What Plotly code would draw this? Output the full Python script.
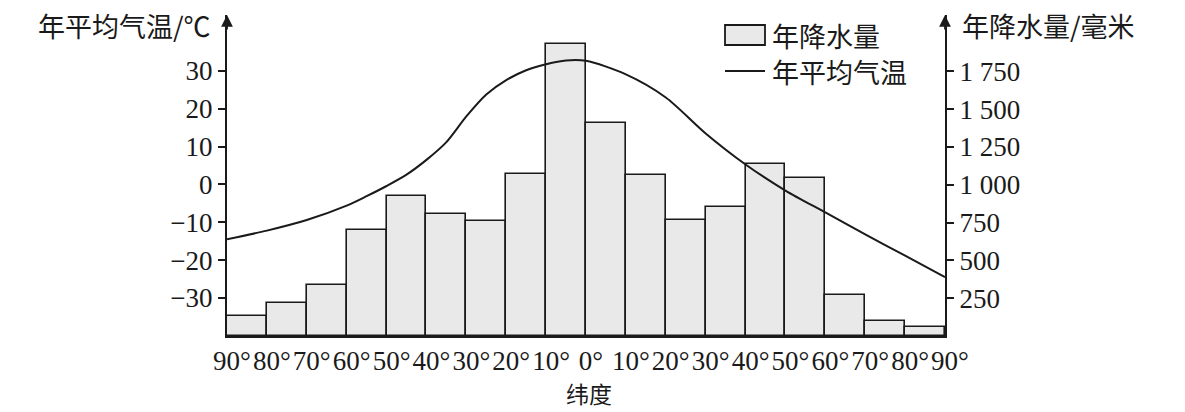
import plotly.graph_objects as go

# ---------------- data ----------------
# x position: negative = northern latitudes (left), positive = southern (right)
band_mid = [-85, -75, -65, -55, -45, -35, -25, -15, -5, 5, 15, 25, 35, 45, 55, 65, 75, 85]
precip_mm = [132, 220, 339, 701, 926, 807, 761, 1071, 1931, 1411, 1065, 767, 855, 1138, 1047, 271, 99, 62]

temp_lat = [-90, -80, -70, -60, -55, -50, -45, -40, -35, -30, -25, -20, -15, -10, -5, 0,
            10, 20, 30, 40, 50, 60, 70, 80, 90]
temp_c = [-14.5, -12.2, -9.4, -5.6, -3.1, -0.4, 2.6, 6.5, 11.2, 18.0, 23.8, 27.6, 30.2, 31.8, 32.8, 32.7,
          29.1, 23.0, 13.5, 5.3, -1.6, -7.4, -13.2, -18.8, -24.5]

x_tick_vals = [-90, -80, -70, -60, -50, -40, -30, -20, -10, 0, 10, 20, 30, 40, 50, 60, 70, 80, 90]
x_tick_text = ["90°", "80°", "70°", "60°", "50°", "40°", "30°", "20°", "10°", "0°",
               "10°", "20°", "30°", "40°", "50°", "60°", "70°", "80°", "90°"]
temp_ticks = [-30, -20, -10, 0, 10, 20, 30]
precip_ticks = [250, 500, 750, 1000, 1250, 1500, 1750]
precip_tick_text = ["250", "500", "750", "1 000", "1 250", "1 500", "1 750"]

# ---------------- layout geometry ----------------
W, H = 1185, 412
ML, MR, MT, MB = 227, 240, 15, 76
PW, PH = W - ML - MR, H - MT - MB

def px_x(p):
    return (p - ML) / PW

def px_y(p):
    return (H - MB - p) / PH

SERIF = "Liberation Serif, Times New Roman, serif"
CJK = "Noto Sans CJK SC, sans-serif"
BAR_FILL = "#e9e9e9"
INK = "#1a1a1a"

fig = go.Figure()
fig.add_trace(go.Bar(
    x=band_mid, y=precip_mm, width=10, yaxis="y",
    marker=dict(color=BAR_FILL, line=dict(color=INK, width=1.6)),
    name="年降水量", showlegend=False,
))
fig.add_trace(go.Scatter(
    x=temp_lat, y=temp_c, yaxis="y2", mode="lines",
    line=dict(color=INK, width=2, shape="spline", smoothing=0.8),
    name="年平均气温", showlegend=False,
))

temp_range = [-40.05, -40.05 + PH / 3.783]
precip_range = [0, PH / 0.1513]

fig.update_layout(
    width=W, height=H,
    margin=dict(l=ML, r=MR, t=MT, b=MB),
    paper_bgcolor="white", plot_bgcolor="white",
    bargap=0,
    xaxis=dict(
        range=[-90, 90], tickvals=x_tick_vals, ticktext=x_tick_text, tickangle=0,
        showgrid=False, zeroline=False, showline=True, linecolor=INK, linewidth=2,
        ticks="", ticklabelshift=5, tickfont=dict(family=SERIF, size=27, color=INK),
    ),
    yaxis=dict(
        range=precip_range, side="right", tickvals=precip_ticks, ticktext=precip_tick_text,
        showgrid=False, zeroline=False, showline=True, linecolor=INK, linewidth=2,
        ticks="outside", ticklen=7, tickwidth=2, tickcolor=INK,
        tickfont=dict(family=SERIF, size=27, color=INK),
    ),
    yaxis2=dict(
        range=temp_range, side="left", overlaying="y", tickvals=temp_ticks,
        showgrid=False, zeroline=False, showline=True, linecolor=INK, linewidth=2,
        ticks="outside", ticklen=7, tickwidth=2, tickcolor=INK,
        tickfont=dict(family=SERIF, size=27, color=INK),
    ),
)

annotations = []
# axis arrows
for xp in (0, 1):
    annotations.append(dict(
        x=xp, y=1, xref="paper", yref="paper", ax=0, ay=16, text="",
        showarrow=True, arrowhead=2, arrowsize=1.3, arrowwidth=1.8, arrowcolor=INK,
    ))
# axis titles
annotations.append(dict(x=px_x(213), y=px_y(25), xref="paper", yref="paper", text="年平均气温/℃",
                        showarrow=False, xanchor="right", yanchor="middle",
                        font=dict(family=CJK, size=27, color=INK)))
annotations.append(dict(x=px_x(960), y=px_y(25), xref="paper", yref="paper", text="年降水量/毫米",
                        showarrow=False, xanchor="left", yanchor="middle",
                        font=dict(family=CJK, size=27, color=INK)))
annotations.append(dict(x=px_x(589), y=px_y(393), xref="paper", yref="paper", text="纬度",
                        showarrow=False, xanchor="center", yanchor="middle",
                        font=dict(family=CJK, size=23, color=INK)))
# legend texts
annotations.append(dict(x=px_x(770), y=px_y(35), xref="paper", yref="paper", text="年降水量",
                        showarrow=False, xanchor="left", yanchor="middle",
                        font=dict(family=CJK, size=27, color=INK)))
annotations.append(dict(x=px_x(770), y=px_y(71), xref="paper", yref="paper", text="年平均气温",
                        showarrow=False, xanchor="left", yanchor="middle",
                        font=dict(family=CJK, size=27, color=INK)))

shapes = [
    dict(type="rect", xref="paper", yref="paper",
         x0=px_x(725), x1=px_x(765), y0=px_y(45), y1=px_y(25),
         fillcolor=BAR_FILL, line=dict(color=INK, width=1.8)),
    dict(type="line", xref="paper", yref="paper",
         x0=px_x(725), x1=px_x(765), y0=px_y(71), y1=px_y(71),
         line=dict(color=INK, width=2)),
]

fig.update_layout(annotations=annotations, shapes=shapes)

fig.write_html("out.html", config={"displayModeBar": False},
               post_script="document.body.style.margin='0';document.body.style.overflow='hidden';")
